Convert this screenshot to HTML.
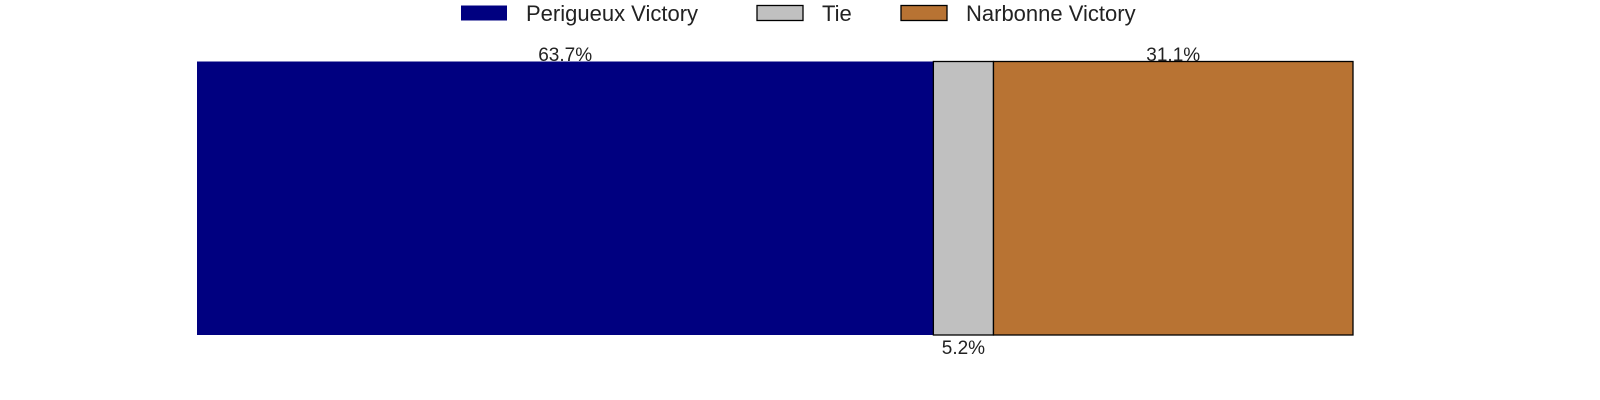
<!DOCTYPE html>
<html style="margin:0;padding:0;overflow:hidden"><head><meta charset="utf-8"><style>
html,body{margin:0;padding:0;background:#fff;width:1600px;height:400px;overflow:hidden;font-family:"Liberation Sans",Arial,sans-serif}
svg{display:block}
</style></head><body>
<svg id="chart" width="1600" height="400" xmlns="http://www.w3.org/2000/svg" font-family="Liberation Sans, Arial, sans-serif">
<g id="legend"></g>
<g id="bars"></g>
</svg>
<script>
const categories = ["Perigueux Victory", "Tie", "Narbonne Victory"];
const values = [63.7, 5.2, 31.1];
const labels = ["63.7%", "5.2%", "31.1%"];
const colors = ["#000080", "#c0c0c0", "#b87333"];
const strokes = ["none", "#000", "#000"];
const NS = "http://www.w3.org/2000/svg";
const x0 = 197, plotW = 1156, yTop = 61.5, barH = 273.5;
const total = values.reduce((a,b)=>a+b,0);
const xs = v => v / total * plotW;
const bars = document.getElementById('bars');
let cum = 0;
values.forEach((v,i)=>{
  const r = document.createElementNS(NS,'rect');
  const x = x0 + xs(cum), w = xs(v);
  r.setAttribute('x', x); r.setAttribute('y', yTop);
  r.setAttribute('width', w); r.setAttribute('height', barH);
  r.setAttribute('fill', colors[i]);
  if (strokes[i] !== 'none') { r.setAttribute('stroke', strokes[i]); r.setAttribute('stroke-width', 1.3); }
  
  
  bars.appendChild(r);
  const t = document.createElementNS(NS,'text');
  t.setAttribute('x', x + w/2);
  t.setAttribute('y', v < 10 ? 354 : 61);
  t.setAttribute('text-anchor','middle');
  t.setAttribute('font-size','19');
  t.setAttribute('fill','#222');
  t.textContent = labels[i];
  
  
  bars.appendChild(t);
  cum += v;
});
const legend = document.getElementById('legend');
const lx = [461, 757, 901];
categories.forEach((c,i)=>{
  const r = document.createElementNS(NS,'rect');
  r.setAttribute('x', lx[i]); r.setAttribute('y', 5.5);
  r.setAttribute('width', 46); r.setAttribute('height', 15);
  r.setAttribute('fill', colors[i]);
  if (strokes[i] !== 'none') { r.setAttribute('stroke', '#000'); r.setAttribute('stroke-width', 1.3); }
  
  
  legend.appendChild(r);
  const t = document.createElementNS(NS,'text');
  t.setAttribute('x', lx[i] + 65); t.setAttribute('y', 21);
  t.setAttribute('font-size','22'); t.setAttribute('fill','#222');
  t.textContent = c;
  
  
  legend.appendChild(t);
});
</script>
</body></html>
